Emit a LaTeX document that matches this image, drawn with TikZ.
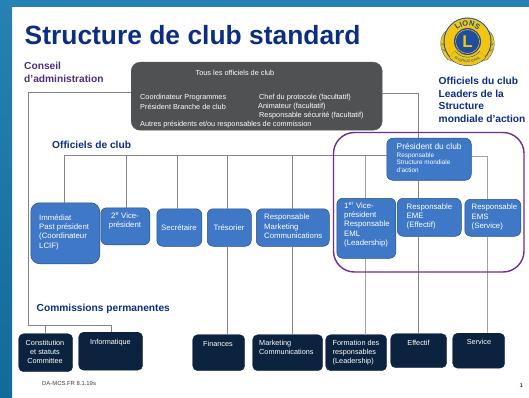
\documentclass[tikz,border=0pt]{standalone}
\usepackage{fontspec}
\setmainfont{Liberation Sans}
\usetikzlibrary{decorations.text,calc}
\definecolor{navyt}{HTML}{0B2E83}
\definecolor{purplet}{HTML}{4F2D7F}
\definecolor{grayb}{HTML}{505153}
\definecolor{blueb}{HTML}{3F78C6}
\definecolor{darkb}{HTML}{0C2340}
\definecolor{linec}{HTML}{808488}
\definecolor{purp}{HTML}{6B2E96}
\definecolor{bgtop}{HTML}{2682B2}
\definecolor{bgbot}{HTML}{13699C}
\definecolor{lionblue}{HTML}{1F4E9E}
\definecolor{lionyel}{HTML}{F2C511}
\tikzset{
  x=1pt,y=-1pt,
  link/.style={draw=linec,line width=0.8pt},
  linkb/.style={draw=linec!75!white,line width=1pt},
  bluebox/.style={draw=blueb!65!black,line width=0.5pt,fill=blueb,rounded corners=6pt,anchor=north west,inner sep=0pt},
  darkbox/.style={draw=darkb,fill=darkb,rounded corners=5pt,anchor=north west,inner sep=0pt},
  wtxt/.style={text=white,font=\fontsize{7.8}{9.2}\selectfont,inner sep=0pt,align=left},
  dtxt/.style={text=white,font=\fontsize{7.3}{9}\selectfont,inner sep=0pt,align=left},
  gtxt/.style={text=white,font=\fontsize{7.3}{8.6}\selectfont,inner sep=0pt,anchor=west},
  head/.style={text=navyt,font=\bfseries\fontsize{10.2}{12.6}\selectfont,inner sep=0pt,align=left},
}
\begin{document}
\begin{tikzpicture}
\useasboundingbox (0,0) rectangle (529,398);
% page background
\fill[white] (0,0) rectangle (529,398);
\fill[bgtop] (0,0) rectangle (529,7);
\fill[top color=bgtop,bottom color=bgbot] (0,0) rectangle (12,398);
% title
\node[anchor=west,inner sep=0pt,text=navyt,font=\bfseries\fontsize{26.4}{28}\selectfont] (title) at (24.5,35.5) {Structure de club standard};
\node[head,text=purplet,anchor=west] (conseil) at (24,72.5) {Conseil\\d'administration};
\node[head,anchor=west] (off) at (52,144.5) {Officiels de club};
\node[head,anchor=west] (comm) at (36.5,308.5) {Commissions permanentes};
\node[head,anchor=west] (lead) at (438.5,100) {Officiels du club\\Leaders de la\\Structure\\mondiale d'action};
% logo
\begin{scope}[shift={(467.5,41.5)}]
  % lions at the sides
  \fill[lionyel,draw=lionblue,line width=0.3pt] (-17,-12) .. controls (-29,-10) and (-30,8) .. (-20,18) -- (-8,22) -- (-8,0) -- cycle;
  \fill[lionyel,draw=lionblue,line width=0.3pt] (17,-12) .. controls (29,-10) and (30,8) .. (20,18) -- (8,22) -- (8,0) -- cycle;
  \draw[lionblue,line width=0.5pt] (-26,2) -- (-20,6) (-25,8) -- (-20,10) (26,2) -- (20,6) (25,8) -- (20,10);
  % rings
  \fill[lionblue] (0,0) circle[radius=24];
  \fill[lionyel] (0,0) circle[radius=23];
  \fill[lionblue] (0,0) circle[radius=13.5];
  \draw[lionyel,line width=0.5pt] (0,0) circle[radius=12];
  \node[inner sep=0pt,text=lionyel,font=\bfseries\fontsize{17}{17}\selectfont] (lionL) at (0,0) {L};
  % banner
  \draw[lionblue,line width=9pt] (140:20) arc[start angle=140,end angle=40,radius=20];
  \draw[lionyel,line width=8pt] (140:20) arc[start angle=140,end angle=40,radius=20];
  \path[decorate,decoration={text along path,text align=center,text={|\bfseries\fontsize{7.5}{8}\selectfont\color{lionblue}|LIONS}}] (196:15.5) arc[start angle=196,end angle=344,radius=15.5];
  \path[decorate,decoration={text along path,text align=center,text={|\fontsize{3.6}{4}\selectfont\color{lionblue}|INTERNATIONAL}}] (140:21.3) arc[start angle=140,end angle=40,radius=21.3];
\end{scope}
% boxes
\node[draw=grayb,fill=grayb,rounded corners=9pt,anchor=north west,minimum width=251pt,minimum height=68pt,inner sep=0pt] (board) at (131,62) {};
\node[gtxt,anchor=center] (b1) at (235,73) {Tous les officiels de club};
\node[gtxt] (b2) at (140,98) {Coordinateur Programmes};
\node[gtxt] (b3) at (140,106.7) {Président Branche de club};
\node[gtxt] (b4) at (140,124.5) {Autres présidents et/ou responsables de commission};
\node[gtxt] (b5) at (259,98) {Chef du protocole (facultatif)};
\node[gtxt] (b6) at (258,106.7) {Animateur (facultatif)};
\node[gtxt] (b7) at (259,115.7) {Responsable sécurité (facultatif)};

\node[bluebox,minimum width=84.5pt,minimum height=42pt] (pres) at (386.5,138) {};
\node[text=white,inner sep=0pt,anchor=north west,align=left,font=\fontsize{6.4}{7.7}\selectfont] (prest) at (396.5,143) {{\fontsize{8.4}{9}\selectfont Président du club}\\Responsable\\Structure mondiale\\d'action};

\node[bluebox,rounded corners=9pt,minimum width=69pt,minimum height=61pt] (ipp) at (30.5,202.5) {};
\node[wtxt,anchor=north west] (ippt) at (39,214.5) {Immédiat\\Past président\\(Coordinateur\\LCIF)};
\node[bluebox,minimum width=49pt,minimum height=37pt] (vp2) at (100.5,207.5) {};
\node[wtxt,anchor=north,align=center] (vp2t) at (125,212.5) {2\textsuperscript{e} Vice-\\président};
\node[bluebox,minimum width=45pt,minimum height=37.5pt] (sec) at (156.5,208.5) {};
\node[wtxt] (sect) at (179,227.5) {Secrétaire};
\node[bluebox,minimum width=44pt,minimum height=37.5pt] (tre) at (207,208.5) {};
\node[wtxt] (tret) at (229,227.5) {Trésorier};
\node[bluebox,minimum width=73pt,minimum height=37.5pt] (rmc) at (256,208.5) {};
\node[wtxt,anchor=north west] (rmct) at (264,214) {Responsable\\Marketing\\Communications};
\node[bluebox,minimum width=59pt,minimum height=60pt] (vp1) at (336.5,198) {};
\node[wtxt,anchor=north west] (vp1t) at (344,202.5) {1\textsuperscript{er} Vice-\\président\\Responsable\\EML\\(Leadership)};
\node[bluebox,minimum width=64pt,minimum height=38pt] (eme) at (397,198) {};
\node[wtxt,anchor=north west] (emet) at (406.5,203.5) {Responsable\\EME\\(Effectif)};
\node[bluebox,minimum width=56pt,minimum height=37pt] (ems) at (464.5,199) {};
\node[wtxt,anchor=north west] (emst) at (471.5,204) {Responsable\\EMS\\(Service)};

\node[darkbox,minimum width=54pt,minimum height=38pt] (con) at (18.5,333.5) {};
\node[dtxt,anchor=north,align=center] (cont) at (45,340) {Constitution\\et statuts\\Committee};
\node[darkbox,minimum width=64pt,minimum height=38pt] (inf) at (78.5,332) {};
\node[dtxt,anchor=north] (inft) at (110.5,339) {Informatique};
\node[darkbox,minimum width=52pt,minimum height=36pt] (fin) at (192.5,334.5) {};
\node[dtxt,anchor=north] (fint) at (218,341) {Finances};
\node[darkbox,minimum width=70pt,minimum height=36pt] (mar) at (252.5,334.5) {};
\node[dtxt,anchor=north west] (mart) at (259,340) {Marketing\\Communications};
\node[darkbox,minimum width=61pt,minimum height=36pt] (frm) at (325.5,334.5) {};
\node[dtxt,anchor=north west] (frmt) at (332.5,340) {Formation des\\responsables\\(Leadership)};
\node[darkbox,minimum width=56pt,minimum height=34pt] (eff) at (390.5,333.5) {};
\node[dtxt,anchor=north] (efft) at (418.5,340.5) {Effectif};
\node[darkbox,minimum width=52pt,minimum height=35pt] (ser) at (452.5,333) {};
\node[dtxt,anchor=north] (sert) at (479,339.5) {Service};

\node[inner sep=0pt,anchor=west,text=black!75,font=\fontsize{5.9}{6}\selectfont] (code) at (42,383.5) {DA-MCS.FR 8.1.19s};
\node[inner sep=0pt,text=navyt,font=\bfseries\fontsize{5.5}{6}\selectfont] (page) at (521.5,385.5) {1};

% connector points
\coordinate (tl) at (28,92.5);
\coordinate (bl) at (28,325);
\coordinate (infc) at (111,325);
\coordinate (conc) at (45,325);
\coordinate (busL) at (64,155.5);
\coordinate (busR) at (418.5,155.5);
\coordinate (tr) at (418.5,93);
\coordinate (cr) at (487,156);
\coordinate (bus2) at (126,155.5);
\coordinate (bus3) at (177,155.5);
\coordinate (bus4) at (227,155.5);
\coordinate (bus5) at (292,155.5);
\coordinate (bus6) at (365,155.5);
% connectors
\draw[link] (board.west |- tl) -- (tl) -- (bl) -- (infc) -- (infc |- inf.north);
\draw[link] (conc) -- (conc |- con.north);
\draw[link] (board.east |- tr) -- (tr) -- (tr |- pres.north);
\draw[link] (busL) -- (pres.west |- busL);
\draw[link] (busL) -- (busL |- ipp.north);
\draw[link] (bus2) -- (bus2 |- vp2.north);
\draw[link] (bus3) -- (bus3 |- sec.north);
\draw[link] (bus4) -- (bus4 |- tre.north);
\draw[link] (bus5) -- (bus5 |- rmc.north);
\draw[linkb] (bus6) -- (bus6 |- vp1.north);
\draw[link] (busR |- pres.south) -- (busR |- eme.north);
\draw[linkb] (pres.east |- cr) -- (cr) -- (cr |- ems.north);
\draw[link] (bus4 |- tre.south) -- (bus4 |- fin.north);
\draw[link] (bus5 |- rmc.south) -- (bus5 |- mar.north);
\draw[linkb] (bus6 |- vp1.south) -- (bus6 |- frm.north);
\draw[link] (busR |- eme.south) -- (busR |- eff.north);
\draw[linkb] (cr |- ems.south) -- (cr |- ser.north);
% purple group
\draw[draw=purp,line width=1.4pt,rounded corners=21pt] (333.5,132.5) rectangle (524,272);
\end{tikzpicture}
\end{document}
